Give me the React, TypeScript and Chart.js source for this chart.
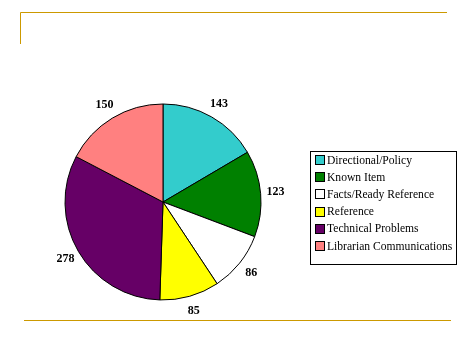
import React, { useEffect, useRef } from "react";
import { Chart, registerables } from "chart.js";

Chart.register(...registerables);

const categories = [
  "Directional/Policy",
  "Known Item",
  "Facts/Ready Reference",
  "Reference",
  "Technical Problems",
  "Librarian Communications",
];
const values = [143, 123, 86, 85, 278, 150];
const colors = ["#33CCCC", "#008000", "#FFFFFF", "#FFFF00", "#660066", "#FF8080"];

const decorPlugin = {
  id: "decor",
  beforeDraw(chart: any) {
    const ctx = chart.ctx;
    ctx.save();
    ctx.fillStyle = "#FFFFFF";
    ctx.fillRect(0, 0, chart.width, chart.height);
    ctx.strokeStyle = "#CC9900";
    ctx.lineWidth = 1;
    ctx.beginPath();
    ctx.moveTo(20.5, 44);
    ctx.lineTo(20.5, 12.5);
    ctx.lineTo(447, 12.5);
    ctx.moveTo(24, 320.5);
    ctx.lineTo(451, 320.5);
    ctx.stroke();
    ctx.restore();
  },
  afterDatasetsDraw(chart: any) {
    const ctx = chart.ctx;
    const meta = chart.getDatasetMeta(0);
    const data = chart.data.datasets[0].data;
    ctx.save();
    ctx.font = "bold 12px 'Liberation Serif', serif";
    ctx.fillStyle = "#000000";
    ctx.textAlign = "center";
    ctx.textBaseline = "middle";
    meta.data.forEach((arc: any, i: number) => {
      const p = arc.getProps(["x", "y", "startAngle", "endAngle", "outerRadius"], true);
      const mid = (p.startAngle + p.endAngle) / 2;
      const r = p.outerRadius + 15;
      ctx.fillText(String(data[i]), p.x + Math.cos(mid) * r, p.y + Math.sin(mid) * r);
    });

    // legend
    const lx = 310.5, ly = 151.5, lw = 146, lh = 113;
    ctx.strokeStyle = "#000000";
    ctx.lineWidth = 1;
    ctx.strokeRect(lx, ly, lw, lh);
    ctx.font = "11.6px 'Liberation Serif', serif";
    ctx.textAlign = "left";
    ctx.textBaseline = "middle";
    const labels = chart.data.labels;
    labels.forEach((lab: string, i: number) => {
      const cy = 160 + i * 17.2;
      ctx.fillStyle = colors[i];
      ctx.fillRect(315.5, Math.round(cy) - 4.5, 9, 9);
      ctx.strokeStyle = "#000000";
      ctx.strokeRect(315.5, Math.round(cy) - 4.5, 9, 9);
      ctx.fillStyle = "#000000";
      ctx.fillText(lab, 327, cy + 0.5);
    });
    ctx.restore();
  },
};

export default function App() {
  const ref = useRef<HTMLCanvasElement>(null);
  useEffect(() => {
    if (!ref.current) return;
    const chart = new Chart(ref.current, {
      type: "pie",
      data: {
        labels: categories,
        datasets: [
          {
            data: values,
            backgroundColor: colors,
            borderColor: "#000000",
            borderWidth: 1,
          },
        ],
      },
      options: {
        responsive: false,
        animation: false,
        events: [],
        layout: { padding: { left: 64.5, top: 103.5, right: 213.5, bottom: 55.5 } },
        plugins: {
          legend: { display: false },
          tooltip: { enabled: false },
        },
      },
      plugins: [decorPlugin],
    });
    return () => chart.destroy();
  }, []);
  return (
    <div style={{ position: "absolute", left: 0, top: 0, width: 475, height: 356 }}>
      <canvas ref={ref} width={475} height={356} style={{ width: 475, height: 356, display: "block" }} />
    </div>
  );
}
